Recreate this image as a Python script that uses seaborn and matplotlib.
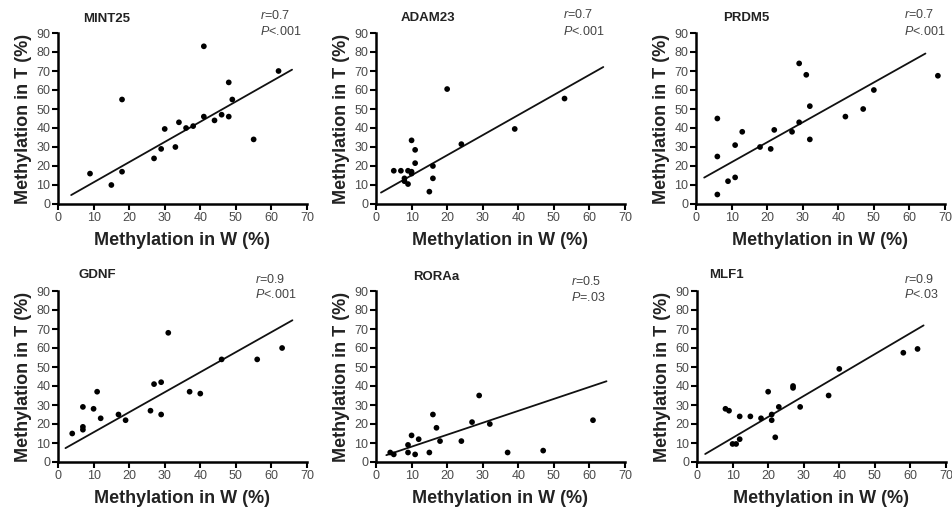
import matplotlib
matplotlib.use("Agg")
import matplotlib.pyplot as plt
import seaborn as sns
import pandas as pd

# ---------------- data ----------------
genes = ["MINT25", "ADAM23", "PRDM5", "GDNF", "RORAa", "MLF1"]
r_labels = ["0.7", "0.7", "0.7", "0.9", "0.5", "0.9"]
p_labels = ["<.001", "<.001", "<.001", "<.001", "=.03", "<.03"]

mint25_w = [9, 15, 18, 18, 27, 29, 30, 33, 34, 36, 38, 41, 41, 44, 46, 48, 48, 49, 55, 62]
mint25_t = [16, 10, 55, 17, 24, 29, 39.5, 30, 43, 40, 41, 83, 46, 44, 47, 64, 46, 55, 34, 70]
mint25_fit_w = [3.7, 65.8]
mint25_fit_t = [4.7, 70.7]

adam23_w = [5, 7, 8, 8, 9, 9, 10, 10, 10, 11, 11, 15, 16, 16, 20, 24, 39, 53]
adam23_t = [17.5, 17.5, 13.5, 12, 10.5, 17.5, 17, 33.5, 16, 28.5, 21.5, 6.5, 20, 13.5, 60.5, 31.5, 39.5, 55.5]
adam23_fit_w = [1.4, 63.9]
adam23_fit_t = [6.0, 72.1]

prdm5_w = [6, 6, 6, 9, 11, 11, 13, 18, 21, 22, 27, 29, 29, 31, 32, 32, 42, 47, 50, 68]
prdm5_t = [5, 25, 45, 12, 14, 31, 38, 30, 29, 39, 38, 43, 74, 68, 51.5, 34, 46, 50, 60, 67.5]
prdm5_fit_w = [2.3, 64.5]
prdm5_fit_t = [13.9, 79.2]

gdnf_w = [4, 7, 7, 7, 10, 11, 12, 17, 19, 26, 27, 29, 29, 31, 37, 40, 46, 56, 63]
gdnf_t = [15, 29, 18.5, 17, 28, 37, 23, 25, 22, 27, 41, 42, 25, 68, 37, 36, 54, 54, 60]
gdnf_fit_w = [2.1, 65.9]
gdnf_fit_t = [7.3, 74.6]

roraa_w = [4, 5, 9, 9, 10, 11, 12, 15, 16, 17, 18, 24, 27, 29, 32, 37, 47, 61]
roraa_t = [5, 4, 9, 5, 14, 4, 12, 5, 25, 18, 11, 11, 21, 35, 20, 5, 6, 22]
roraa_fit_w = [2.9, 64.8]
roraa_fit_t = [3.6, 42.5]

mlf1_w = [8, 9, 10, 11, 12, 12, 15, 18, 20, 21, 21, 22, 23, 27, 27, 29, 37, 40, 58, 62]
mlf1_t = [28, 27, 9.5, 9.5, 24, 12, 24, 23, 37, 25, 22, 13, 29, 40, 39, 29, 35, 49, 57.5, 59.5]
mlf1_fit_w = [2.3, 63.7]
mlf1_fit_t = [4.2, 71.9]

x_ticks = [0, 10, 20, 30, 40, 50, 60, 70]
y_ticks = [0, 10, 20, 30, 40, 50, 60, 70, 80, 90]
x_label = "Methylation in W (%)"
y_label = "Methylation in T (%)"

points_w = [mint25_w, adam23_w, prdm5_w, gdnf_w, roraa_w, mlf1_w]
points_t = [mint25_t, adam23_t, prdm5_t, gdnf_t, roraa_t, mlf1_t]
fits_w = [mint25_fit_w, adam23_fit_w, prdm5_fit_w, gdnf_fit_w, roraa_fit_w, mlf1_fit_w]
fits_t = [mint25_fit_t, adam23_fit_t, prdm5_fit_t, gdnf_fit_t, roraa_fit_t, mlf1_fit_t]

# ---------------- layout ----------------
W, H = 953, 514
axes_px = [  # left, right, top, bottom in pixels
    (58, 307, 33, 204), (376, 625, 33, 204), (696, 945, 33, 204),
    (58, 307, 291, 462), (376, 625, 291, 462), (697, 946, 291, 462),
]
title_pos = [(0.197, 1.08), (0.21, 1.09), (0.20, 1.09),
             (0.157, 1.095), (0.24, 1.08), (0.12, 1.095)]
stat_x = [0.81, 0.75, 0.836, 0.79, 0.783, 0.83]
stat_y_r = [1.105, 1.11, 1.11, 1.066, 1.055, 1.07]
stat_y_p = [1.006, 1.01, 1.01, 0.978, 0.96, 0.98]

sns.set_theme(style="ticks")
plt.rcParams["font.family"] = ["Liberation Sans", "DejaVu Sans"]
plt.rcParams["mathtext.fontset"] = "custom"
plt.rcParams["mathtext.rm"] = "Liberation Sans"
plt.rcParams["mathtext.it"] = "Liberation Sans:italic"

fig = plt.figure(figsize=(W / 100, H / 100), dpi=100)
fig.patch.set_facecolor("white")

tick_color = "#4a4a4a"

for i, gene in enumerate(genes):
    l, r, t, b = axes_px[i]
    ax = fig.add_axes([l / W, 1 - b / H, (r - l) / W, (b - t) / H])
    ax.set_facecolor("white")
    df = pd.DataFrame({"w": points_w[i], "t": points_t[i]})
    sns.scatterplot(data=df, x="w", y="t", ax=ax, color="black", s=17,
                    edgecolor="none", clip_on=False, zorder=3)
    fit = pd.DataFrame({"w": fits_w[i], "t": fits_t[i]})
    sns.lineplot(data=fit, x="w", y="t", ax=ax, color="#111111", lw=1.3,
                 clip_on=False, zorder=2)
    ax.set_xlim(0, 70)
    ax.set_ylim(0, 90)
    ax.set_xticks(x_ticks)
    ax.set_yticks(y_ticks)
    ax.tick_params(axis="both", direction="out", length=4, width=1.5,
                   colors="black", labelcolor=tick_color, labelsize=9, pad=1.5)
    for side in ("top", "right"):
        ax.spines[side].set_visible(False)
    for side in ("left", "bottom"):
        ax.spines[side].set_linewidth(1.8)
        ax.spines[side].set_color("black")
    ax.set_xlabel(x_label, fontsize=13, fontweight="bold", color="#222222", labelpad=6)
    ax.set_ylabel(y_label, fontsize=13, fontweight="bold", color="#222222", labelpad=3)
    ax.text(title_pos[i][0], title_pos[i][1], gene, transform=ax.transAxes,
            ha="center", va="center", fontsize=9.5, fontweight="bold", color="#222222")
    ax.text(stat_x[i], stat_y_r[i], r"$\mathit{r}$=" + r_labels[i], transform=ax.transAxes,
            ha="left", va="center", fontsize=9, color="#444444")
    ax.text(stat_x[i], stat_y_p[i], r"$\mathit{P}$" + p_labels[i], transform=ax.transAxes,
            ha="left", va="center", fontsize=9, color="#444444")

fig.savefig("out.png", dpi=100, facecolor="white")
